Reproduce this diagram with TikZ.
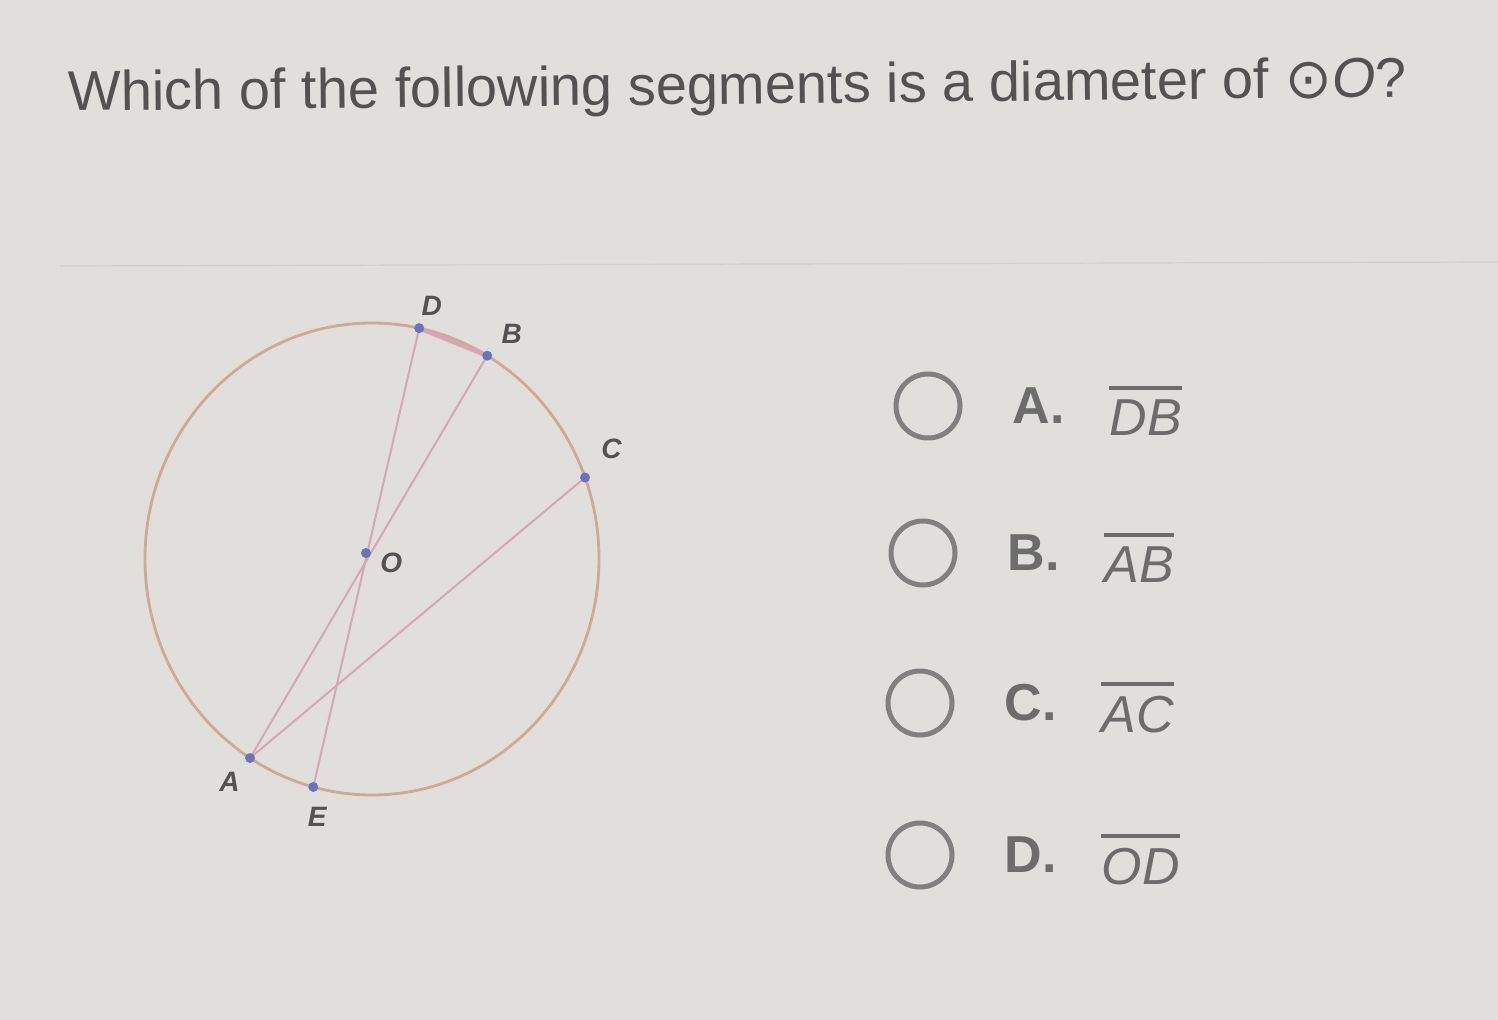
\documentclass[tikz,border=0pt]{standalone}
\usepackage{fontspec}
\setmainfont{Liberation Sans}
\newfontfamily\symfont{DejaVu Sans}
\usetikzlibrary{positioning}

\definecolor{bgpaper}{RGB}{224,223,219}
\definecolor{rimcol}{RGB}{208,168,148}
\definecolor{chordcol}{RGB}{214,166,178}
\definecolor{dotcol}{RGB}{105,115,190}
\definecolor{inkcol}{RGB}{82,82,82}
\definecolor{radiocol}{RGB}{128,128,128}

\tikzset{
  ptlabel/.style={font=\fontsize{14}{14}\selectfont\bfseries\itshape, text=inkcol, inner sep=1pt},
  chord/.style={chordcol, line width=1pt},
  radio/.style={circle, draw=radiocol, line width=2.5pt, minimum size=32pt, inner sep=0pt},
  choice/.style={font=\fontsize{26}{26}\selectfont\bfseries, text=inkcol!85, inner sep=0pt},
  seg/.style={font=\fontsize{26}{26}\selectfont\itshape, text=inkcol!85, inner sep=0pt},
  segbar/.style={inkcol!85, line width=1.8pt},
}

\begin{document}
\begin{tikzpicture}[x=0.5pt, y=-0.5pt]
\fill[bgpaper] (0,0) rectangle (1498,1020);
\useasboundingbox (0,0) rectangle (1498,1020);
\draw[bgpaper!93!black, line width=0.6pt] (60,266) -- (1498,262);

% question
\node[anchor=base west, inner sep=0pt, rotate=0.6, text=inkcol,
      font=\fontsize{28}{28}\selectfont] (title) at (68,111)
  {Which of the following segments is a diameter of {\symfont ⊙}\textit{O}?};

% circle
\coordinate (ctr) at (372,559);
\draw[rimcol, line width=1.4pt] (ctr) ellipse [x radius=227, y radius=236];

% points on the circle
\foreach \n/\a in {D/78, B/59.5, C/20.2, A/237.5, E/255}
  \coordinate (\n) at ({372+227*cos(\a)}, {559-236*sin(\a)});
\coordinate (O) at (366,553);

% chords
\draw[chord] (D) -- (E);
\draw[chord] (B) -- (A);
\draw[chord] (A) -- (C);
\draw[chord, line width=2.2pt] (D) -- (B);

% dots
\foreach \n in {D,B,C,A,E,O}
  \fill[dotcol] (\n) circle [radius=5];

% labels
\node[ptlabel, above right=5pt and 0pt of D] (lD) {D};
\node[ptlabel, above right=5pt and 6pt of B] (lB) {B};
\node[ptlabel, above right=8pt and 7pt of C] (lC) {C};
\node[ptlabel, right=6pt of O, yshift=-5pt] (lO) {O};
\node[ptlabel, below left=6pt and 4pt of A] (lA) {A};
\node[ptlabel, below=9pt of E, xshift=2pt] (lE) {E};

% answer choices
\foreach \k/\x/\y/\lt/\sg in {1/928/406/A/DB, 2/923/553/B/AB, 3/920/703/C/AC, 4/920/855/D/OD} {
  \node[radio] (radio\k) at (\x,\y) {};
  \node[choice, right=25pt of radio\k] (opt\k) {\lt.};
  \node[seg, right=22pt of opt\k, yshift=-6pt] (seg\k) {\sg};
  \draw[segbar] ([yshift=6pt]seg\k.north west) -- ([yshift=6pt]seg\k.north east);
}
\end{tikzpicture}
\end{document}
